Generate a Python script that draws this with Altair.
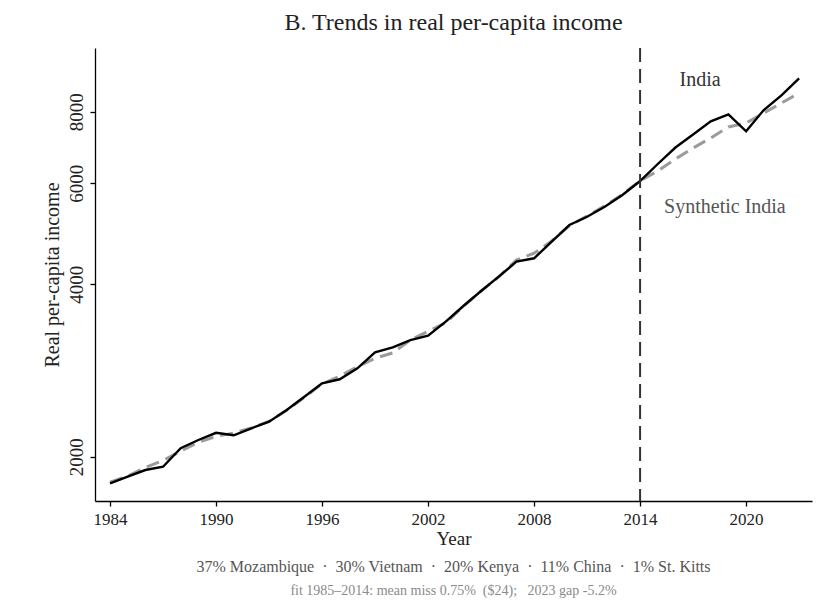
import altair as alt
import pandas as pd

# ---- data ----
years = list(range(1984, 2024))
india = [1797, 1846, 1896, 1921, 2069, 2139, 2202, 2180, 2242, 2302,
         2413, 2545, 2686, 2730, 2853, 3042, 3104, 3196, 3252, 3441,
         3665, 3892, 4123, 4379, 4439, 4745, 5074, 5246, 5462, 5724,
         6056, 6484, 6928, 7299, 7697, 7911, 7394, 8055, 8545, 9149]
synthetic = [1805, 1850, 1915, 1970, 2045, 2120, 2170, 2200, 2245, 2305,
             2410, 2540, 2680, 2765, 2870, 2970, 3035, 3195, 3310, 3425,
             3660, 3890, 4120, 4410, 4530, 4760, 5060, 5260, 5480, 5740,
             6060, 6304, 6615, 6914, 7198, 7523, 7645, 7958, 8283, 8624]
treatment_year = [2014]
x_ticks = [1984, 1990, 1996, 2002, 2008, 2014, 2020]
y_ticks = [2000, 4000, 6000, 8000]
label_text = ["India", "Synthetic India"]
label_year = [2017.4, 2018.8]
label_value = [9086, 5455]
title_text = "B. Trends in real per-capita income"
NB = "\u00a0"
footer1 = (f"37% Mozambique{NB}{NB}·{NB}{NB}30% Vietnam{NB}{NB}·{NB}{NB}"
           f"20% Kenya{NB}{NB}·{NB}{NB}11% China{NB}{NB}·{NB}{NB}1% St. Kitts")
footer2 = f"fit 1985\u20132014: mean miss 0.75%{NB}{NB}($24);{NB}{NB}{NB}2023 gap -5.2%"

W, H = 717, 453
FONT = "Liberation Serif"

df_india = pd.DataFrame({"year": years, "value": india})
df_synth = pd.DataFrame({"year": years, "value": synthetic})
df_rule = pd.DataFrame({"year": treatment_year})

xscale = alt.Scale(domain=[1983.15, 2023.73], nice=False, zero=False)
yscale = alt.Scale(type="log", domain=[1674, 10334], nice=False)

x_enc = alt.X("year:Q", scale=xscale,
              axis=alt.Axis(values=x_ticks, format="d", title="Year",
                            labelFontSize=17, titleFontSize=19,
                            tickSize=5, labelPadding=5, titlePadding=2))
y_enc = alt.Y("value:Q", scale=yscale,
              axis=alt.Axis(values=y_ticks, format="d",
                            title="Real per-capita income",
                            labelAngle=270, labelAlign="center",
                            labelBaseline="bottom",
                            labelFontSize=19, titleFontSize=20,
                            tickSize=5, labelPadding=4, titlePadding=5))

synth_line = alt.Chart(df_synth).mark_line(
    color="#9b9b9b", strokeWidth=3, strokeDash=[13, 7]
).encode(x=x_enc, y=y_enc)

india_line = alt.Chart(df_india).mark_line(
    color="black", strokeWidth=2.4
).encode(x=alt.X("year:Q", scale=xscale), y=alt.Y("value:Q", scale=yscale))

rule = alt.Chart(df_rule).mark_rule(
    color="#333333", strokeWidth=2, strokeDash=[14, 7]
).encode(x=alt.X("year:Q", scale=xscale))

df_labels = pd.DataFrame({"year": label_year, "value": label_value,
                          "text": label_text,
                          "c": ["#333333", "#555555"]})
labels = alt.Chart(df_labels).mark_text(
    font=FONT, fontSize=20, align="center", baseline="middle"
).encode(x=alt.X("year:Q", scale=xscale),
         y=alt.Y("value:Q", scale=yscale),
         text="text:N",
         color=alt.Color("c:N", scale=None))

foot1 = alt.Chart(pd.DataFrame({"t": [footer1]})).mark_text(
    font=FONT, fontSize=16, color="#555555", align="center", baseline="middle"
).encode(text="t:N", x=alt.value(W / 2), y=alt.value(H + 66))

foot2 = alt.Chart(pd.DataFrame({"t": [footer2]})).mark_text(
    font=FONT, fontSize=14, color="#8a8a8a", align="center", baseline="middle"
).encode(text="t:N", x=alt.value(W / 2), y=alt.value(H + 90))

chart = alt.layer(synth_line, india_line, rule, labels, foot1, foot2).properties(
    width=W, height=H,
    title=alt.TitleParams(title_text, font=FONT, fontSize=24,
                          fontWeight="normal", color="#222222",
                          anchor="middle", offset=12),
    autosize=alt.AutoSizeParams(type="none"),
    padding={"left": 87, "top": 40, "right": 14, "bottom": 100},
).configure_view(stroke=None).configure_axis(
    grid=False, domainColor="black", tickColor="black",
    domainWidth=1.3, tickWidth=1.3,
    labelColor="#222222", titleColor="#222222",
    labelFont=FONT, titleFont=FONT, titleFontWeight="normal"
)

chart.save("out.html", embed_options={"renderer": "svg", "actions": False})
